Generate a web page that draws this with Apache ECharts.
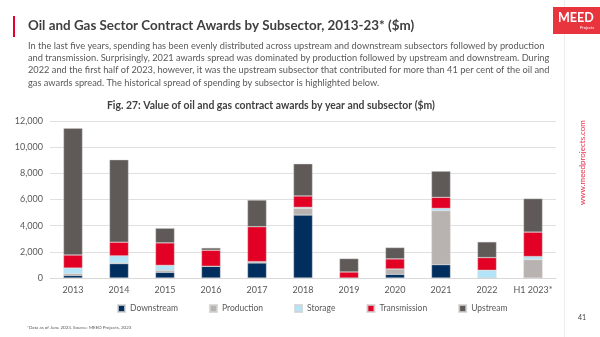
<!DOCTYPE html>
<html>
<head>
<meta charset="utf-8">
<script src="https://cdn.jsdelivr.net/npm/echarts@6/dist/echarts.min.js"></script>
<style>
html,body{margin:0;padding:0;background:#fff;}
#chart{width:600px;height:337px;}
</style>
</head>
<body>
<div id="chart"></div>
<script>
const categories = ['2013','2014','2015','2016','2017','2018','2019','2020','2021','2022','H1 2023*'];
const downstream   = [200, 1100, 435, 900, 1150, 4810, 0, 280, 1020, 0, 0];
const production   = [130, 50, 150, 0, 100, 510, 0, 410, 4120, 0, 1410];
const storage      = [430, 540, 380, 0, 0, 80, 0, 0, 180, 590, 230];
const transmission = [1000, 1050, 1720, 1225, 2670, 870, 460, 770, 845, 970, 1870];
const upstream     = [9680, 6300, 1120, 175, 2040, 2460, 1025, 870, 2000, 1200, 2560];
const yTicks = [0, 2000, 4000, 6000, 8000, 10000, 12000];

const FONT = 'Lato, "Open Sans", sans-serif';
const chart = echarts.init(document.getElementById('chart'), null, {renderer: 'canvas'});

function bar(name, data, color) {
  return {
    name: name, type: 'bar', stack: 'total', data: data, barWidth: 19,
    itemStyle: {color: color, borderColor: 'rgba(210,210,210,0.8)', borderWidth: 0.5},
    emphasis: {disabled: true}
  };
}

const option = {
  animation: false,
  textStyle: {fontFamily: FONT},
  grid: {left: 50, right: 44, top: 121, bottom: 59, containLabel: false},
  legend: {
    left: 112, top: 299, itemWidth: 7, itemHeight: 7, itemGap: 31,
    icon: 'rect',
    textStyle: {fontFamily: FONT, fontSize: 8.5, color: '#595959'},
    data: ['Downstream','Production','Storage','Transmission','Upstream']
  },
  xAxis: {
    type: 'category', data: categories,
    axisLine: {lineStyle: {color: '#d9d9d9'}},
    axisTick: {show: false},
    axisLabel: {fontFamily: FONT, fontSize: 9, color: '#595959', margin: 8, interval: 0}
  },
  yAxis: {
    type: 'value', min: yTicks[0], max: yTicks[yTicks.length-1], interval: 2000,
    axisLine: {show: false}, axisTick: {show: false},
    splitLine: {lineStyle: {color: '#e0e0e0', width: 1}},
    axisLabel: {fontFamily: FONT, fontSize: 9, color: '#595959', margin: 7,
      formatter: v => v.toLocaleString('en-US')}
  },
  series: [
    bar('Downstream', downstream, '#002f5f'),
    bar('Production', production, '#b8b3b1'),
    bar('Storage', storage, '#b4e4f9'),
    bar('Transmission', transmission, '#e20025'),
    bar('Upstream', upstream, '#5f5a58')
  ],
  graphic: [
    {type: 'rect', shape: {x: 13, y: 16, width: 2, height: 21}, style: {fill: '#e4002b'}},
    {type: 'text', left: 28, top: 19, style: {text: 'Oil and Gas Sector Contract Awards by Subsector, 2013-23* ($m)', font: 'bold 13.4px ' + FONT, fill: '#404040'}},
    {type: 'text', left: 28, top: 40, style: {
      text: 'In the last five years, spending has been evenly distributed across upstream and downstream subsectors followed by production\nand transmission. Surprisingly, 2021 awards spread was dominated by production followed by upstream and downstream. During\n2022 and the first half of 2023, however, it was the upstream subsector that contributed for more than 41 per cent of the oil and\ngas awards spread. The historical spread of spending by subsector is highlighted below.',
      font: '9.25px ' + FONT, fill: '#595959', lineHeight: 12.2}},
    {type: 'text', left: 107, top: 101, style: {text: 'Fig. 27: Value of oil and gas contract awards by year and subsector ($m)', font: 'bold 10.4px ' + FONT, fill: '#404040'}},
    {type: 'line', shape: {x1: 564.5, y1: 0, x2: 564.5, y2: 337}, style: {stroke: '#ececec', lineWidth: 1}},
    {type: 'rect', shape: {x: 553, y: 7, width: 47, height: 27}, style: {fill: '#e8343c'}},
    {type: 'text', left: 558, top: 11, style: {text: 'MEED', font: 'bold 12.5px ' + FONT, fill: '#ffffff'}},
    {type: 'text', left: 580, top: 26, style: {text: 'Projects', font: '4px ' + FONT, fill: '#ffffff'}},
    {type: 'text', x: 582, y: 205, rotation: Math.PI/2, style: {text: 'www.meedprojects.com', font: '8px ' + FONT, fill: '#e8334a', verticalAlign: 'middle'}},
    {type: 'text', left: 578, top: 314, style: {text: '41', font: '7px ' + FONT, fill: '#404040'}},
    {type: 'text', left: 27, top: 325, style: {text: '*Data as of June 2023. Source: MEED Projects, 2023', font: '4.5px ' + FONT, fill: '#595959'}}
  ]
};
chart.setOption(option);
</script>
</body>
</html>
